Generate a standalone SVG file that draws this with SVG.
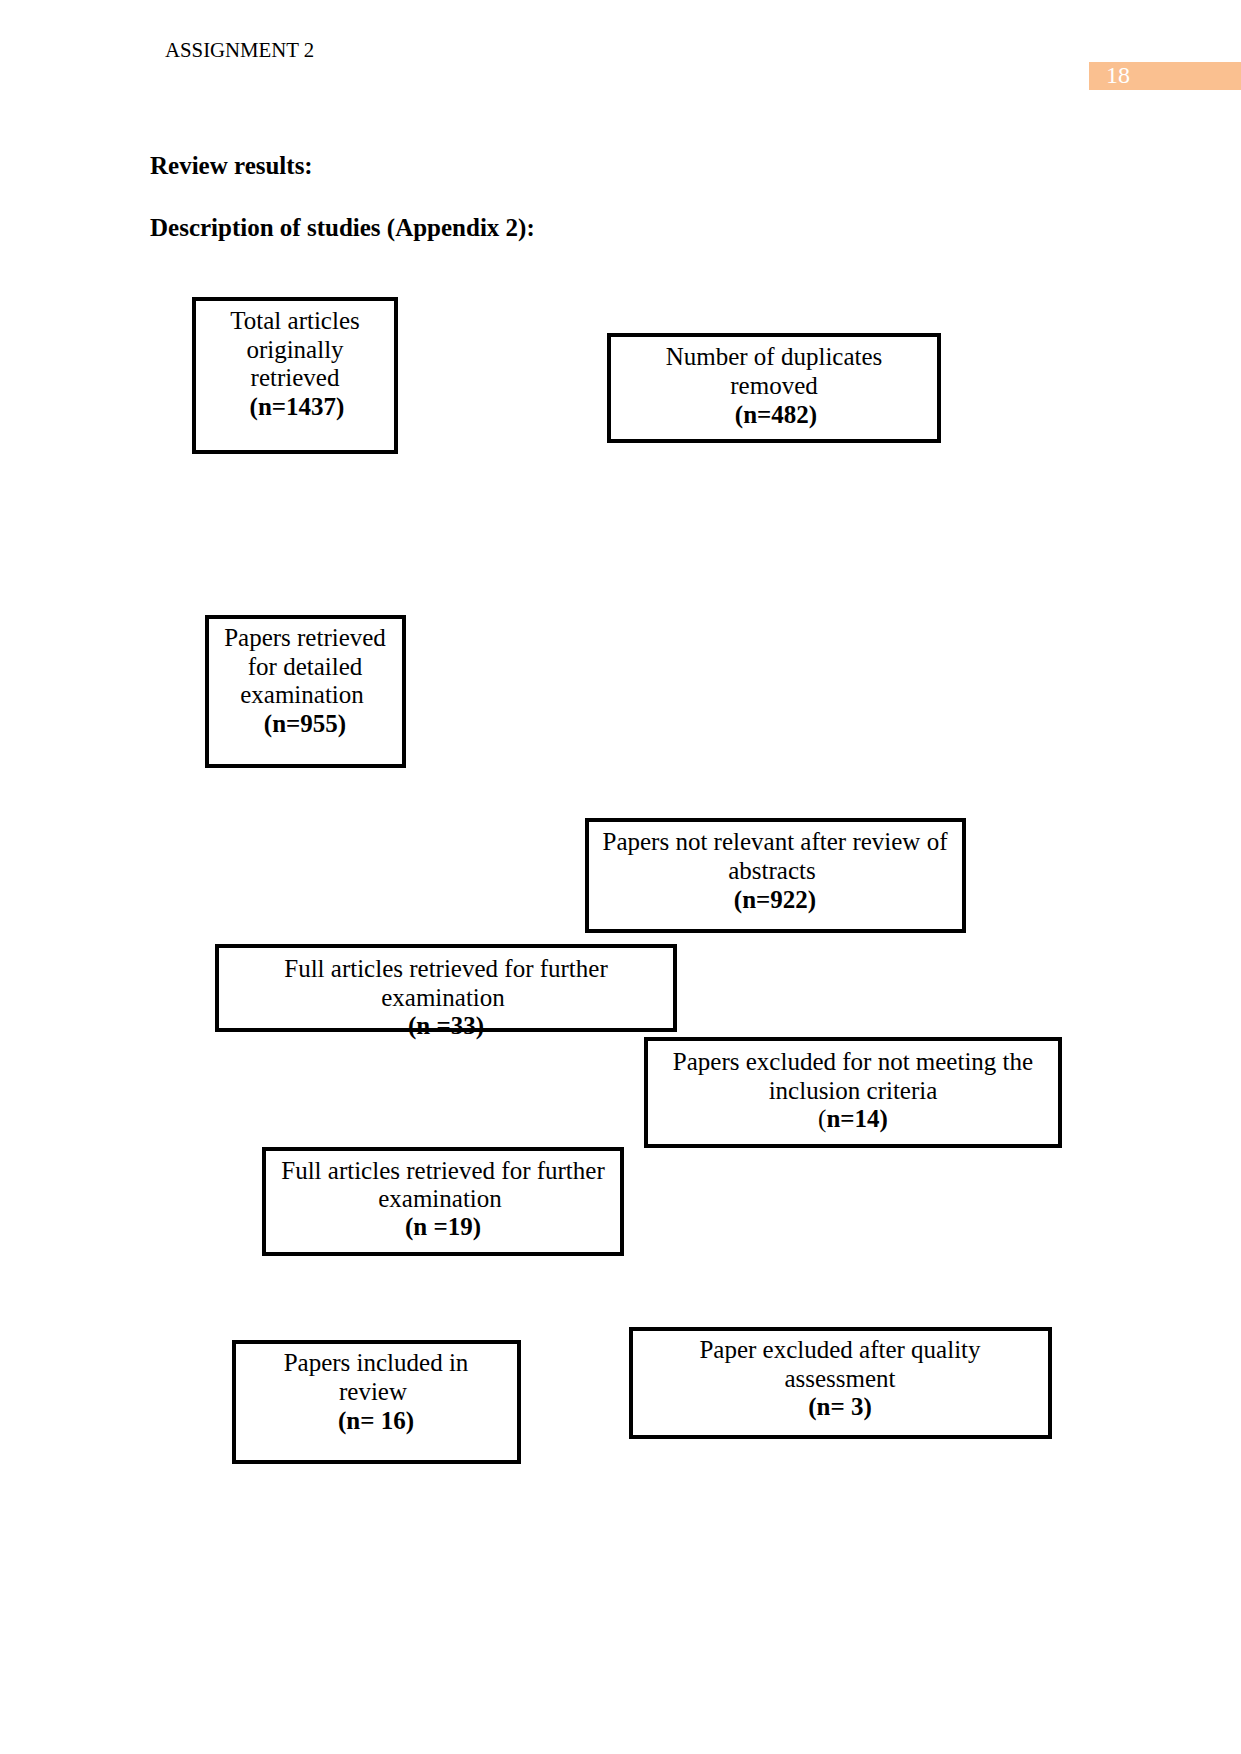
<svg xmlns="http://www.w3.org/2000/svg" width="1241" height="1754" viewBox="0 0 1241 1754">
<style>
  .box { fill: #ffffff; stroke: #000000; stroke-width: 4; }
  .t { font-family: "Liberation Serif", "Times New Roman", serif; font-size: 25px; fill: #000000; text-anchor: middle; }
  .b { font-weight: bold; }
  .r { font-weight: normal; }
  .hdr { font-family: "Liberation Serif", "Times New Roman", serif; font-size: 20.8px; fill: #000000; }
  .h { font-family: "Liberation Serif", "Times New Roman", serif; font-size: 25px; font-weight: bold; fill: #000000; }
</style>
<rect x="0" y="0" width="1241" height="1754" fill="#ffffff"/>

<g id="page-header">
  <text class="hdr" x="165" y="56.5">ASSIGNMENT 2</text>
  <rect x="1089" y="62" width="152" height="28" fill="#FAC090"/>
  <text x="1106" y="83" font-family="Liberation Serif, Times New Roman, serif" font-size="24" fill="#ffffff">18</text>
</g>

<g id="headings">
  <text class="h" x="150" y="174">Review results:</text>
  <text class="h" x="150" y="236">Description of studies (Appendix 2):</text>
</g>

<g id="connectors"></g>

<g id="node-total">
  <rect class="box" x="194" y="299" width="202" height="153"/>
  <text class="t" x="295" y="329">Total articles</text>
  <text class="t" x="295" y="357.5">originally</text>
  <text class="t" x="295" y="386">retrieved</text>
  <text class="t b" x="297" y="415">(n=1437)</text>
</g>

<g id="node-duplicates">
  <rect class="box" x="609" y="335" width="330" height="106"/>
  <text class="t" x="774" y="365">Number of duplicates</text>
  <text class="t" x="774" y="394">removed</text>
  <text class="t b" x="776" y="422.5">(n=482)</text>
</g>

<g id="node-detailed">
  <rect class="box" x="207" y="617" width="197" height="149"/>
  <text class="t" x="305" y="646">Papers retrieved</text>
  <text class="t" x="305" y="674.5">for detailed</text>
  <text class="t" x="302" y="703">examination</text>
  <text class="t b" x="305" y="732">(n=955)</text>
</g>

<g id="node-not-relevant">
  <rect class="box" x="587" y="820" width="377" height="111"/>
  <text class="t" x="775" y="850">Papers not relevant after review of</text>
  <text class="t" x="772" y="879">abstracts</text>
  <text class="t b" x="775" y="908">(n=922)</text>
</g>

<g id="node-full-33">
  <rect class="box" x="217" y="946" width="458" height="84"/>
  <text class="t" x="446" y="976.5">Full articles retrieved for further</text>
  <text class="t" x="443" y="1005.5">examination</text>
  <text class="t b" x="446" y="1034">(n =33)</text>
</g>

<g id="node-excluded-14">
  <rect class="box" x="646" y="1039" width="414" height="107"/>
  <text class="t" x="853" y="1070">Papers excluded for not meeting the</text>
  <text class="t" x="853" y="1098.5">inclusion criteria</text>
  <text class="t" x="853" y="1127"><tspan class="r">(</tspan><tspan class="b">n=14)</tspan></text>
</g>

<g id="node-full-19">
  <rect class="box" x="264" y="1149" width="358" height="105"/>
  <text class="t" x="443" y="1178.5">Full articles retrieved for further</text>
  <text class="t" x="440" y="1207">examination</text>
  <text class="t b" x="443" y="1235">(n =19)</text>
</g>

<g id="node-included">
  <rect class="box" x="234" y="1342" width="285" height="120"/>
  <text class="t" x="376" y="1371">Papers included in</text>
  <text class="t" x="373" y="1400">review</text>
  <text class="t b" x="376" y="1429">(n= 16)</text>
</g>

<g id="node-quality">
  <rect class="box" x="631" y="1329" width="419" height="108"/>
  <text class="t" x="840" y="1358">Paper excluded after quality</text>
  <text class="t" x="840" y="1386.5">assessment</text>
  <text class="t b" x="840" y="1415">(n= 3)</text>
</g>
</svg>
